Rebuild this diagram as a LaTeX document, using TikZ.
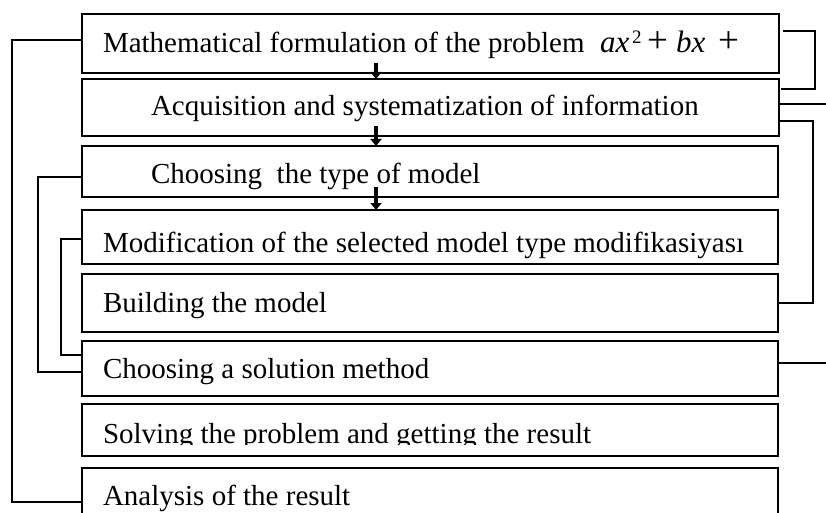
\documentclass[tikz,border=0pt]{standalone}
\usepackage{fontspec}
\setmainfont{Liberation Serif}
\usetikzlibrary{arrows.meta}
\tikzset{
  stage/.style={draw, line width=1.8pt, anchor=north west, inner sep=0pt, outer sep=0pt, minimum width=#1},
  stage/.default=696pt,
  caption/.style={anchor=base west, inner sep=0pt, outer sep=0pt, font=\fontsize{29}{34}\selectfont},
  link/.style={line width=1.8pt},
  flow/.style={line width=3.5pt, -{Triangle[width=11pt,length=7pt]}},
}
\newcommand{\plussign}{{\fontsize{37}{37}\selectfont +}}
\begin{document}
\begin{tikzpicture}[x=1pt, y=-1pt]
\path[use as bounding box] (0,0) rectangle (826,513);
\clip (0,0) rectangle (826,513);

% stage boxes
\node[stage=697pt, minimum height=59pt] (b1) at (82,14)  {};
\node[stage=697pt, minimum height=57pt] (b2) at (82,79)  {};
\node[stage, minimum height=51pt] (b3) at (82,146) {};
\node[stage, minimum height=54pt] (b4) at (82,210) {};
\node[stage, minimum height=58pt] (b5) at (82,274) {};
\node[stage, minimum height=55pt] (b6) at (82,341) {};
\node[stage, minimum height=52pt] (b7) at (82,404) {};
\node[stage, minimum height=68pt] (b8) at (82,468) {};

% stage captions
\node[caption] (t1) at (103,53)  {Mathematical formulation of the problem};
\node[caption] (t1m) at (600,53) {%
  \makebox[32pt][l]{\fontsize{31}{34}\selectfont\itshape ax}%
  \makebox[15pt][l]{\raisebox{9pt}{\fontsize{19}{19}\selectfont 2}}%
  \makebox[29pt][l]{\plussign}%
  \makebox[42pt][l]{\fontsize{31}{34}\selectfont\itshape bx}%
  \plussign};
\node[caption] (t2) at (151,116) {Acquisition and systematization of information};
\node[caption] (t3) at (151,183) {Choosing\ \ the type of model};
\node[caption] (t4) at (103,252) {Modification of the selected model type modifikasiyas\i};
\node[caption] (t5) at (103,312) {Building the model};
\node[caption] (t6) at (103,378) {Choosing a solution method};
\begin{scope}
  \clip (90,404) rectangle (770,444);
  \node[caption] (t7) at (103,443) {Solving the problem and getting the result};
\end{scope}
\node[caption] (t8) at (103,505) {Analysis of the result};

% downward arrows between the first stages
\draw[flow] ([xshift=-54.5pt,yshift=10pt]b1.south) -- ([xshift=-54.5pt]b2.north);
\draw[flow] ([xshift=-54.5pt,yshift=10pt]b2.south) -- ([xshift=-54pt]b3.north);
\draw[flow] ([xshift=-54pt,yshift=10pt]b3.south) -- ([xshift=-54pt]b4.north);

% rails for the feedback lines
\coordinate (L1) at (12,0);
\coordinate (L2) at (38,0);
\coordinate (L3) at (61,0);
\coordinate (R1) at (815,0);
\coordinate (R2) at (813,0);
\coordinate (E) at (826,0);

% attachment points
\coordinate (p8) at (b8.west);
\coordinate (p6a) at ([yshift=-3.5pt]b6.west);
\coordinate (p6b) at ([yshift=13.5pt]b6.west);
\coordinate (q2) at ([xshift=2pt,yshift=18.5pt]b2.east);
\coordinate (q5) at (b5.east);
\coordinate (s2) at ([yshift=3.5pt]b2.east);
\coordinate (s6) at ([yshift=5.5pt]b6.east);

% left-hand feedback lines
\draw[link] ([yshift=3.5pt]b1.west) -| (L1 |- p8) -- (p8);
\draw[link] ([yshift=-5.5pt]b3.west) -| (L2 |- p6a) -- (p6a);
\draw[link] ([yshift=-2pt]b4.west) -| (L3 |- p6b) -- (p6b);

% right-hand brackets and lines
\draw[link] ([xshift=4pt,yshift=12.5pt]b1.east) -| (R1 |- q2) -- (q2);
\draw[link] (s2) -- (s2 -| E);
\draw[link] ([yshift=-13.5pt]b2.east) -| (R2 |- q5) -- (q5);
\draw[link] (s6) -- (s6 -| E);
\end{tikzpicture}
\end{document}
